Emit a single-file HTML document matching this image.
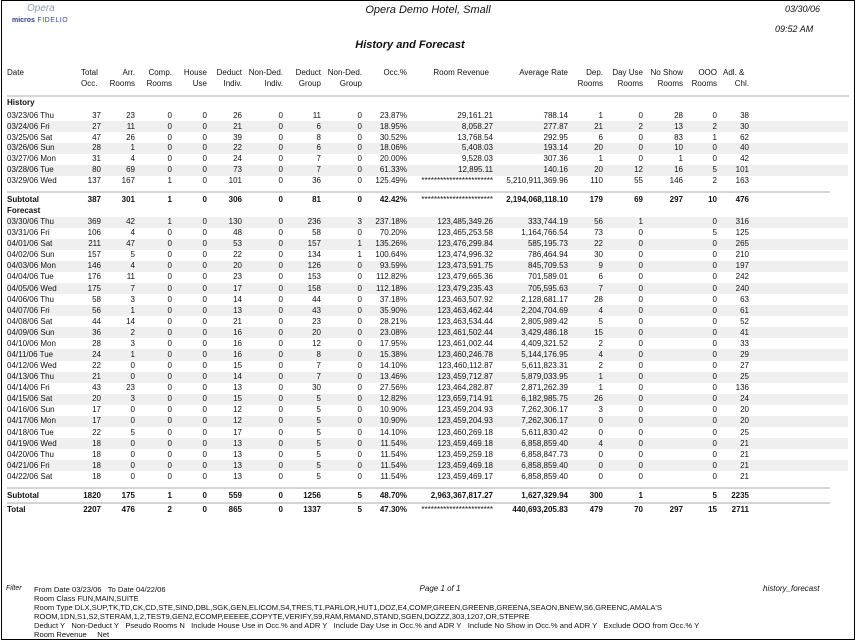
<!DOCTYPE html>
<html><head><meta charset="utf-8"><style>
*{margin:0;padding:0;box-sizing:border-box}
body{width:856px;height:643px;background:#fff;font-family:"Liberation Sans",Arial,sans-serif;color:#111;position:relative;overflow:hidden}
.frame{position:absolute;left:1px;top:0;width:854px;height:640px;border:1px solid #000}
.a{position:absolute;white-space:nowrap}
table{position:absolute;left:7px;border-collapse:collapse;table-layout:fixed;font-size:8px}
td{padding:0;text-align:right;white-space:nowrap;overflow:visible;line-height:1}
td:first-child{text-align:left}
.h tr{height:11px}
.hist tr{height:10.85px}
.fc tr{height:11.09px}
.s{background:#efefef}
.b td{font-weight:bold}
.line{position:absolute;left:7px;height:2px;background:#d4d4d4}
</style></head><body>
<div class="frame"></div>
<div class="a" style="left:27px;top:3px;font-size:10px;color:#8a9ab8;font-style:italic">Opera</div>
<div class="a" style="left:12px;top:17px;font-size:7px;color:#2a3a8a;font-weight:bold">micros<span style="font-weight:normal;color:#3a4aa0;letter-spacing:0.5px"> FIDELIO</span></div>
<div class="a" style="left:0;width:856px;text-align:center;top:4px;font-size:11px;font-style:italic">Opera Demo Hotel, Small</div>
<div class="a" style="left:785px;top:4px;font-size:9px;font-style:italic">03/30/06</div>
<div class="a" style="left:775px;top:24px;font-size:9px;font-style:italic">09:52 AM</div>
<div class="a" style="left:0;width:820px;text-align:center;top:39px;font-size:11px;font-style:italic;font-weight:bold">History and Forecast</div>

<table class="h" style="top:67px">
<colgroup><col style="width:63px"><col style="width:31px"><col style="width:34px"><col style="width:37px"><col style="width:35px"><col style="width:35px"><col style="width:41px"><col style="width:38px"><col style="width:41px"><col style="width:45px"><col style="width:82px"><col style="width:79px"><col style="width:35px"><col style="width:40px"><col style="width:40px"><col style="width:34px"><col style="width:32px"></colgroup>
<tr><td>Date</td><td style="text-align:left;padding-left:11px">Total</td><td>Arr.</td><td>Comp.</td><td>House</td><td>Deduct</td><td>Non-Ded.</td><td>Deduct</td><td>Non-Ded.</td><td>Occ.%</td><td>Room Revenue</td><td>Average Rate</td><td>Dep.</td><td>Day Use</td><td>No Show</td><td>OOO</td><td style="text-align:left;padding-left:6px">Adl. &amp;</td></tr>
<tr><td></td><td style="text-align:left;padding-left:11px">Occ.</td><td>Rooms</td><td>Rooms</td><td>Use</td><td>Indiv.</td><td>Indiv.</td><td>Group</td><td>Group</td><td></td><td></td><td></td><td>Rooms</td><td>Rooms</td><td>Rooms</td><td>Rooms</td><td>Chl.</td></tr>
</table>
<div class="line" style="top:95px;width:842px"></div>
<div class="a" style="left:7px;top:98px;font-size:8px;font-weight:bold">History</div>

<table class="hist" style="top:110.5px">
<colgroup><col style="width:63px"><col style="width:31px"><col style="width:34px"><col style="width:37px"><col style="width:35px"><col style="width:35px"><col style="width:41px"><col style="width:38px"><col style="width:41px"><col style="width:45px"><col style="width:86px"><col style="width:75px"><col style="width:35px"><col style="width:40px"><col style="width:40px"><col style="width:34px"><col style="width:32px"><col style="width:99px"></colgroup>
<tr><td>03/23/06 Thu</td><td>37</td><td>23</td><td>0</td><td>0</td><td>26</td><td>0</td><td>11</td><td>0</td><td>23.87%</td><td>29,161.21</td><td>788.14</td><td>1</td><td>0</td><td>28</td><td>0</td><td>38</td><td></td></tr>
<tr class="s"><td>03/24/06 Fri</td><td>27</td><td>11</td><td>0</td><td>0</td><td>21</td><td>0</td><td>6</td><td>0</td><td>18.95%</td><td>8,058.27</td><td>277.87</td><td>21</td><td>2</td><td>13</td><td>2</td><td>30</td><td></td></tr>
<tr><td>03/25/06 Sat</td><td>47</td><td>26</td><td>0</td><td>0</td><td>39</td><td>0</td><td>8</td><td>0</td><td>30.52%</td><td>13,768.54</td><td>292.95</td><td>6</td><td>0</td><td>83</td><td>1</td><td>62</td><td></td></tr>
<tr class="s"><td>03/26/06 Sun</td><td>28</td><td>1</td><td>0</td><td>0</td><td>22</td><td>0</td><td>6</td><td>0</td><td>18.06%</td><td>5,408.03</td><td>193.14</td><td>20</td><td>0</td><td>10</td><td>0</td><td>40</td><td></td></tr>
<tr><td>03/27/06 Mon</td><td>31</td><td>4</td><td>0</td><td>0</td><td>24</td><td>0</td><td>7</td><td>0</td><td>20.00%</td><td>9,528.03</td><td>307.36</td><td>1</td><td>0</td><td>1</td><td>0</td><td>42</td><td></td></tr>
<tr class="s"><td>03/28/06 Tue</td><td>80</td><td>69</td><td>0</td><td>0</td><td>73</td><td>0</td><td>7</td><td>0</td><td>61.33%</td><td>12,895.11</td><td>140.16</td><td>20</td><td>12</td><td>16</td><td>5</td><td>101</td><td></td></tr>
<tr><td>03/29/06 Wed</td><td>137</td><td>167</td><td>1</td><td>0</td><td>101</td><td>0</td><td>36</td><td>0</td><td>125.49%</td><td>***********************</td><td>5,210,911,369.96</td><td>110</td><td>55</td><td>146</td><td>2</td><td>163</td><td></td></tr>
</table>
<div class="line" style="top:191px;width:823px"></div>
<table class="hist b" style="top:194.5px">
<colgroup><col style="width:63px"><col style="width:31px"><col style="width:34px"><col style="width:37px"><col style="width:35px"><col style="width:35px"><col style="width:41px"><col style="width:38px"><col style="width:41px"><col style="width:45px"><col style="width:86px"><col style="width:75px"><col style="width:35px"><col style="width:40px"><col style="width:40px"><col style="width:34px"><col style="width:32px"></colgroup>
<tr><td>Subtotal</td><td>387</td><td>301</td><td>1</td><td>0</td><td>306</td><td>0</td><td>81</td><td>0</td><td>42.42%</td><td style="font-weight:normal">***********************</td><td>2,194,068,118.10</td><td>179</td><td>69</td><td>297</td><td>10</td><td>476</td></tr>
</table>
<div class="a" style="left:7px;top:206px;font-size:8px;font-weight:bold">Forecast</div>

<table class="fc" style="top:216.5px">
<colgroup><col style="width:63px"><col style="width:31px"><col style="width:34px"><col style="width:37px"><col style="width:35px"><col style="width:35px"><col style="width:41px"><col style="width:38px"><col style="width:41px"><col style="width:45px"><col style="width:86px"><col style="width:75px"><col style="width:35px"><col style="width:40px"><col style="width:40px"><col style="width:34px"><col style="width:32px"><col style="width:99px"></colgroup>
<tr class="s"><td>03/30/06 Thu</td><td>369</td><td>42</td><td>1</td><td>0</td><td>130</td><td>0</td><td>236</td><td>3</td><td>237.18%</td><td>123,485,349.26</td><td>333,744.19</td><td>56</td><td>1</td><td></td><td>0</td><td>316</td><td></td></tr>
<tr><td>03/31/06 Fri</td><td>106</td><td>4</td><td>0</td><td>0</td><td>48</td><td>0</td><td>58</td><td>0</td><td>70.20%</td><td>123,465,253.58</td><td>1,164,766.54</td><td>73</td><td>0</td><td></td><td>5</td><td>125</td><td></td></tr>
<tr class="s"><td>04/01/06 Sat</td><td>211</td><td>47</td><td>0</td><td>0</td><td>53</td><td>0</td><td>157</td><td>1</td><td>135.26%</td><td>123,476,299.84</td><td>585,195.73</td><td>22</td><td>0</td><td></td><td>0</td><td>265</td><td></td></tr>
<tr><td>04/02/06 Sun</td><td>157</td><td>5</td><td>0</td><td>0</td><td>22</td><td>0</td><td>134</td><td>1</td><td>100.64%</td><td>123,474,996.32</td><td>786,464.94</td><td>30</td><td>0</td><td></td><td>0</td><td>210</td><td></td></tr>
<tr class="s"><td>04/03/06 Mon</td><td>146</td><td>4</td><td>0</td><td>0</td><td>20</td><td>0</td><td>126</td><td>0</td><td>93.59%</td><td>123,473,591.75</td><td>845,709.53</td><td>9</td><td>0</td><td></td><td>0</td><td>197</td><td></td></tr>
<tr><td>04/04/06 Tue</td><td>176</td><td>11</td><td>0</td><td>0</td><td>23</td><td>0</td><td>153</td><td>0</td><td>112.82%</td><td>123,479,665.36</td><td>701,589.01</td><td>6</td><td>0</td><td></td><td>0</td><td>242</td><td></td></tr>
<tr class="s"><td>04/05/06 Wed</td><td>175</td><td>7</td><td>0</td><td>0</td><td>17</td><td>0</td><td>158</td><td>0</td><td>112.18%</td><td>123,479,235.43</td><td>705,595.63</td><td>7</td><td>0</td><td></td><td>0</td><td>240</td><td></td></tr>
<tr><td>04/06/06 Thu</td><td>58</td><td>3</td><td>0</td><td>0</td><td>14</td><td>0</td><td>44</td><td>0</td><td>37.18%</td><td>123,463,507.92</td><td>2,128,681.17</td><td>28</td><td>0</td><td></td><td>0</td><td>63</td><td></td></tr>
<tr class="s"><td>04/07/06 Fri</td><td>56</td><td>1</td><td>0</td><td>0</td><td>13</td><td>0</td><td>43</td><td>0</td><td>35.90%</td><td>123,463,462.44</td><td>2,204,704.69</td><td>4</td><td>0</td><td></td><td>0</td><td>61</td><td></td></tr>
<tr><td>04/08/06 Sat</td><td>44</td><td>14</td><td>0</td><td>0</td><td>21</td><td>0</td><td>23</td><td>0</td><td>28.21%</td><td>123,463,534.44</td><td>2,805,989.42</td><td>5</td><td>0</td><td></td><td>0</td><td>52</td><td></td></tr>
<tr class="s"><td>04/09/06 Sun</td><td>36</td><td>2</td><td>0</td><td>0</td><td>16</td><td>0</td><td>20</td><td>0</td><td>23.08%</td><td>123,461,502.44</td><td>3,429,486.18</td><td>15</td><td>0</td><td></td><td>0</td><td>41</td><td></td></tr>
<tr><td>04/10/06 Mon</td><td>28</td><td>3</td><td>0</td><td>0</td><td>16</td><td>0</td><td>12</td><td>0</td><td>17.95%</td><td>123,461,002.44</td><td>4,409,321.52</td><td>2</td><td>0</td><td></td><td>0</td><td>33</td><td></td></tr>
<tr class="s"><td>04/11/06 Tue</td><td>24</td><td>1</td><td>0</td><td>0</td><td>16</td><td>0</td><td>8</td><td>0</td><td>15.38%</td><td>123,460,246.78</td><td>5,144,176.95</td><td>4</td><td>0</td><td></td><td>0</td><td>29</td><td></td></tr>
<tr><td>04/12/06 Wed</td><td>22</td><td>0</td><td>0</td><td>0</td><td>15</td><td>0</td><td>7</td><td>0</td><td>14.10%</td><td>123,460,112.87</td><td>5,611,823.31</td><td>2</td><td>0</td><td></td><td>0</td><td>27</td><td></td></tr>
<tr class="s"><td>04/13/06 Thu</td><td>21</td><td>0</td><td>0</td><td>0</td><td>14</td><td>0</td><td>7</td><td>0</td><td>13.46%</td><td>123,459,712.87</td><td>5,879,033.95</td><td>1</td><td>0</td><td></td><td>0</td><td>25</td><td></td></tr>
<tr><td>04/14/06 Fri</td><td>43</td><td>23</td><td>0</td><td>0</td><td>13</td><td>0</td><td>30</td><td>0</td><td>27.56%</td><td>123,464,282.87</td><td>2,871,262.39</td><td>1</td><td>0</td><td></td><td>0</td><td>136</td><td></td></tr>
<tr class="s"><td>04/15/06 Sat</td><td>20</td><td>3</td><td>0</td><td>0</td><td>15</td><td>0</td><td>5</td><td>0</td><td>12.82%</td><td>123,659,714.91</td><td>6,182,985.75</td><td>26</td><td>0</td><td></td><td>0</td><td>24</td><td></td></tr>
<tr><td>04/16/06 Sun</td><td>17</td><td>0</td><td>0</td><td>0</td><td>12</td><td>0</td><td>5</td><td>0</td><td>10.90%</td><td>123,459,204.93</td><td>7,262,306.17</td><td>3</td><td>0</td><td></td><td>0</td><td>20</td><td></td></tr>
<tr class="s"><td>04/17/06 Mon</td><td>17</td><td>0</td><td>0</td><td>0</td><td>12</td><td>0</td><td>5</td><td>0</td><td>10.90%</td><td>123,459,204.93</td><td>7,262,306.17</td><td>0</td><td>0</td><td></td><td>0</td><td>20</td><td></td></tr>
<tr><td>04/18/06 Tue</td><td>22</td><td>5</td><td>0</td><td>0</td><td>17</td><td>0</td><td>5</td><td>0</td><td>14.10%</td><td>123,460,269.18</td><td>5,611,830.42</td><td>0</td><td>0</td><td></td><td>0</td><td>25</td><td></td></tr>
<tr class="s"><td>04/19/06 Wed</td><td>18</td><td>0</td><td>0</td><td>0</td><td>13</td><td>0</td><td>5</td><td>0</td><td>11.54%</td><td>123,459,469.18</td><td>6,858,859.40</td><td>4</td><td>0</td><td></td><td>0</td><td>21</td><td></td></tr>
<tr><td>04/20/06 Thu</td><td>18</td><td>0</td><td>0</td><td>0</td><td>13</td><td>0</td><td>5</td><td>0</td><td>11.54%</td><td>123,459,259.18</td><td>6,858,847.73</td><td>0</td><td>0</td><td></td><td>0</td><td>21</td><td></td></tr>
<tr class="s"><td>04/21/06 Fri</td><td>18</td><td>0</td><td>0</td><td>0</td><td>13</td><td>0</td><td>5</td><td>0</td><td>11.54%</td><td>123,459,469.18</td><td>6,858,859.40</td><td>0</td><td>0</td><td></td><td>0</td><td>21</td><td></td></tr>
<tr><td>04/22/06 Sat</td><td>18</td><td>0</td><td>0</td><td>0</td><td>13</td><td>0</td><td>5</td><td>0</td><td>11.54%</td><td>123,459,469.17</td><td>6,858,859.40</td><td>0</td><td>0</td><td></td><td>0</td><td>21</td><td></td></tr>
</table>
<div class="line" style="top:487px;width:823px"></div>
<table class="hist b" style="top:490.5px">
<colgroup><col style="width:63px"><col style="width:31px"><col style="width:34px"><col style="width:37px"><col style="width:35px"><col style="width:35px"><col style="width:41px"><col style="width:38px"><col style="width:41px"><col style="width:45px"><col style="width:86px"><col style="width:75px"><col style="width:35px"><col style="width:40px"><col style="width:40px"><col style="width:34px"><col style="width:32px"></colgroup>
<tr><td>Subtotal</td><td>1820</td><td>175</td><td>1</td><td>0</td><td>559</td><td>0</td><td>1256</td><td>5</td><td>48.70%</td><td>2,963,367,817.27</td><td>1,627,329.94</td><td>300</td><td>1</td><td></td><td>5</td><td>2235</td></tr>
</table>
<div class="line" style="top:502px;width:823px"></div>
<table class="hist b" style="top:505px">
<colgroup><col style="width:63px"><col style="width:31px"><col style="width:34px"><col style="width:37px"><col style="width:35px"><col style="width:35px"><col style="width:41px"><col style="width:38px"><col style="width:41px"><col style="width:45px"><col style="width:86px"><col style="width:75px"><col style="width:35px"><col style="width:40px"><col style="width:40px"><col style="width:34px"><col style="width:32px"></colgroup>
<tr><td>Total</td><td>2207</td><td>476</td><td>2</td><td>0</td><td>865</td><td>0</td><td>1337</td><td>5</td><td>47.30%</td><td style="font-weight:normal">***********************</td><td>440,693,205.83</td><td>479</td><td>70</td><td>297</td><td>15</td><td>2711</td></tr>
</table>

<div class="a" style="left:6px;top:585px;font-size:7px;font-style:italic">Filter</div>
<div class="a" style="left:0;width:880px;text-align:center;top:584px;font-size:8px;font-style:italic">Page 1 of 1</div>
<div class="a" style="left:763px;top:584px;font-size:8px;font-style:italic">history_forecast</div>
<div class="a" style="left:34px;top:584.5px;font-size:7.6px;line-height:9px">From Date 03/23/06&nbsp;&nbsp; To Date 04/22/06<br>Room Class FUN,MAIN,SUITE<br>Room Type DLX,SUP,TK,TD,CK,CD,STE,SIND,DBL,SGK,GEN,ELICOM,S4,TRES,T1,PARLOR,HUT1,DOZ,E4,COMP,GREEN,GREENB,GREENA,SEAON,BNEW,S6,GREENC,AMALA'S<br>ROOM,1DN,S1,S2,STERAM,1,2,TEST9,GEN2,ECOMP,EEEEE,COPYTE,VERIFY,S9,RAM,RMAND,STAND,SGEN,DOZZZ,303,1207,OR,STEPRE<br>Deduct Y&nbsp;&nbsp; Non-Deduct Y&nbsp;&nbsp; Pseudo Rooms N&nbsp;&nbsp; Include House Use in Occ.% and ADR Y&nbsp;&nbsp; Include Day Use in Occ.% and ADR Y&nbsp;&nbsp; Include No Show in Occ.% and ADR Y&nbsp;&nbsp; Exclude OOO from Occ.% Y<br>Room Revenue&nbsp;&nbsp;&nbsp;&nbsp; Net</div>
</body></html>
